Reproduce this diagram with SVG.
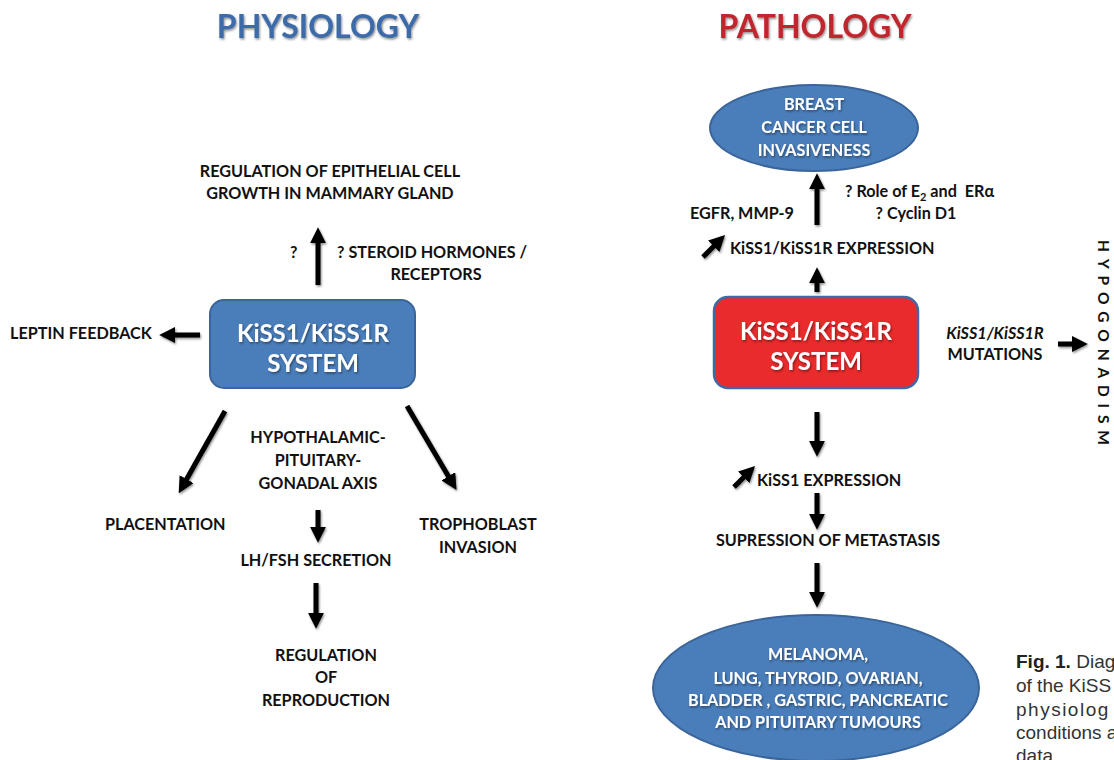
<svg xmlns="http://www.w3.org/2000/svg" width="1114" height="760" viewBox="0 0 1114 760">
<defs>
<style>
.t{font-family:Lato,"Open Sans","Liberation Sans",sans-serif;font-weight:bold;font-size:16.2px;fill:#111}
.m{text-anchor:middle}
.w{fill:#fff;font-size:24px}
.wt{fill:#fff;font-size:16.2px}
.title{font-size:32px;text-anchor:middle}
.ar{stroke:#000;stroke-width:5;fill:none;marker-end:url(#ah)}
.cap{font-family:"Liberation Sans",Arial,sans-serif;font-size:19px;fill:#333}
</style>
<marker id="ah" viewBox="0 0 10 10" refX="2" refY="5" markerWidth="3.2" markerHeight="3.2" orient="auto" markerUnits="strokeWidth">
<path d="M0,0 L10,5 L0,10 z" fill="#000"/>
</marker>
<filter id="sh" x="-20%" y="-20%" width="140%" height="140%">
<feDropShadow dx="1" dy="1.5" stdDeviation="1" flood-color="#000" flood-opacity="0.45"/>
</filter>
</defs>
<rect width="1114" height="760" fill="#fff"/>

<text class="t title" x="318" y="38" style="fill:#3e6aa8" filter="url(#sh)">PHYSIOLOGY</text>
<text class="t title" x="815" y="38" style="fill:#c0272d" filter="url(#sh)">PATHOLOGY</text>

<g id="mammary">
<text class="t m" x="330" y="177">REGULATION OF EPITHELIAL CELL</text>
<text class="t m" x="330" y="199">GROWTH IN MAMMARY GLAND</text>
</g>
<g id="steroid">
<text class="t" x="290" y="258">?</text>
<text class="t" x="337" y="258">? STEROID HORMONES /</text>
<text class="t m" x="436" y="280">RECEPTORS</text>
</g>
<g id="phys-system">
<rect x="210" y="300" width="205" height="88" rx="14" fill="#4a7ebb" stroke="#3b659a" stroke-width="2"/>
<text class="t w m" x="313" y="342" filter="url(#sh)">KiSS1/KiSS1R</text>
<text class="t w m" x="313" y="372" filter="url(#sh)">SYSTEM</text>
</g>
<g id="leptin"><text class="t" x="10" y="339">LEPTIN FEEDBACK</text></g>
<g id="hpg">
<text class="t m" x="318" y="443">HYPOTHALAMIC-</text>
<text class="t m" x="318" y="466">PITUITARY-</text>
<text class="t m" x="318" y="489">GONADAL AXIS</text>
</g>
<g id="placentation"><text class="t" x="105" y="530">PLACENTATION</text></g>
<g id="trophoblast">
<text class="t m" x="478" y="530">TROPHOBLAST</text>
<text class="t m" x="478" y="553">INVASION</text>
</g>
<g id="lhfsh"><text class="t m" x="316" y="566">LH/FSH SECRETION</text></g>
<g id="reproduction">
<text class="t m" x="326" y="661">REGULATION</text>
<text class="t m" x="326" y="683">OF</text>
<text class="t m" x="326" y="706">REPRODUCTION</text>
</g>

<g id="breast">
<ellipse cx="814" cy="128" rx="104" ry="43" fill="#4a7ebb" stroke="#3b659a" stroke-width="2"/>
<text class="t wt m" x="814" y="110" filter="url(#sh)">BREAST</text>
<text class="t wt m" x="814" y="133" filter="url(#sh)">CANCER CELL</text>
<text class="t wt m" x="814" y="156" filter="url(#sh)">INVASIVENESS</text>
</g>
<g id="role">
<text class="t" x="845" y="197">? Role of E<tspan font-size="11" dy="4">2</tspan><tspan dy="-4"> and &#160;ERα</tspan></text>
<text class="t m" x="916" y="219">? Cyclin D1</text>
</g>
<g id="egfr"><text class="t" x="690" y="219">EGFR, MMP-9</text></g>
<g id="expr1"><text class="t" x="730" y="254">KiSS1/KiSS1R EXPRESSION</text></g>
<g id="path-system">
<rect x="714" y="297" width="204" height="91" rx="14" fill="#e92b2c" stroke="#3e6aa8" stroke-width="2.5"/>
<text class="t w m" x="816" y="340" filter="url(#sh)">KiSS1/KiSS1R</text>
<text class="t w m" x="816" y="370" filter="url(#sh)">SYSTEM</text>
</g>
<g id="mutations">
<text class="t m" x="995" y="339" font-style="italic">KiSS1/KiSS1R</text>
<text class="t m" x="995" y="360">MUTATIONS</text>
</g>
<g id="hypogonadism">
<text class="t" x="0" y="0" transform="translate(1098,240) rotate(90)" letter-spacing="6.8" style="font-size:15.5px">HYPOGONADISM</text>
</g>
<g id="expr2"><text class="t" x="757" y="486">KiSS1 EXPRESSION</text></g>
<g id="metastasis"><text class="t m" x="828" y="546">SUPRESSION OF METASTASIS</text></g>
<g id="tumours">
<ellipse cx="816" cy="688" rx="163" ry="73" fill="#4a7ebb" stroke="#3b659a" stroke-width="2"/>
<text class="t wt m" x="818" y="660" filter="url(#sh)">MELANOMA,</text>
<text class="t wt m" x="818" y="684" filter="url(#sh)">LUNG, THYROID, OVARIAN,</text>
<text class="t wt m" x="818" y="706" filter="url(#sh)">BLADDER , GASTRIC, PANCREATIC</text>
<text class="t wt m" x="818" y="728" filter="url(#sh)">AND PITUITARY TUMOURS</text>
</g>
<g id="caption">
<text class="cap" x="1016" y="668"><tspan font-weight="bold" fill="#222">Fig. 1.</tspan> Diag</text>
<text class="cap" x="1016" y="692">of the KiSS</text>
<text class="cap" x="1016" y="716" letter-spacing="1.5">physiolog</text>
<text class="cap" x="1016" y="739">conditions a</text>
<text class="cap" x="1016" y="762">data</text>
</g>

<g id="connectors" filter="url(#sh)">
<line class="ar" x1="318" y1="285" x2="318" y2="240"/>
<line class="ar" x1="200" y1="335" x2="172" y2="335"/>
<line class="ar" x1="225" y1="411" x2="185" y2="482"/>
<line class="ar" x1="407" y1="406" x2="450" y2="479"/>
<line class="ar" x1="318" y1="510" x2="318" y2="530"/>
<line class="ar" x1="316" y1="583" x2="316" y2="616"/>
<line class="ar" x1="817" y1="225" x2="817" y2="186"/>
<line class="ar" x1="817" y1="292" x2="817" y2="280"/>
<line class="ar" x1="817" y1="412" x2="817" y2="444"/>
<line class="ar" x1="817" y1="493" x2="817" y2="517"/>
<line class="ar" x1="817" y1="563" x2="817" y2="595"/>
<line class="ar" x1="1058" y1="344" x2="1075" y2="344"/>
<line class="ar" x1="703" y1="257" x2="716" y2="244"/>
<line class="ar" x1="734" y1="487" x2="746" y2="475"/>
</g>
</svg>
